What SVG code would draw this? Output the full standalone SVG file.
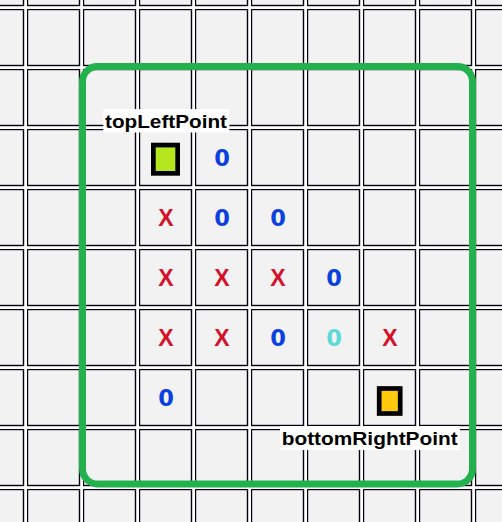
<svg xmlns="http://www.w3.org/2000/svg" width="502" height="522" viewBox="0 0 502 522">
  <defs>
    <pattern id="gridPat" x="-29" y="-51" width="56" height="60" patternUnits="userSpaceOnUse">
      <rect x="0.5" y="0.5" width="52" height="56" fill="#f2f2f2" stroke="#000010" stroke-width="1.4"/>
    </pattern>
  </defs>
  <style>
    .x { font-family: "Liberation Sans", Arial, sans-serif; font-weight: bold; font-size: 23px; fill: #d3112b; text-anchor: middle; }
    .o { font-family: "DejaVu Sans", Verdana, sans-serif; font-weight: bold; font-size: 22.5px; fill: #0b3fdf; text-anchor: middle; }
    .oc { fill: #5ed9da; }
    .lbl { font-family: "Liberation Sans", Arial, sans-serif; font-weight: bold; font-size: 17.5px; fill: #000; }
    .lblbg { fill: #fff; }
    .pt { stroke: #000; stroke-width: 4.7; }
  </style>
  <rect width="502" height="522" fill="#fff"/>
  <rect id="grid" width="502" height="522" fill="url(#gridPat)"/>

  <g id="marks">
    <text class="o" x="222" y="166.4">0</text>
    <text class="x" x="166" y="226.4">X</text>
    <text class="o" x="222" y="226.4">0</text>
    <text class="o" x="278" y="226.4">0</text>
    <text class="x" x="166" y="286.4">X</text>
    <text class="x" x="222" y="286.4">X</text>
    <text class="x" x="278" y="286.4">X</text>
    <text class="o" x="334" y="286.4">0</text>
    <text class="x" x="166" y="346.4">X</text>
    <text class="x" x="222" y="346.4">X</text>
    <text class="o" x="278" y="346.4">0</text>
    <text class="o oc" x="334" y="346.4">0</text>
    <text class="x" x="390" y="346.4">X</text>
    <text class="o" x="166" y="406.4">0</text>
  </g>

  <g id="topLeftPoint">
    <rect class="pt" x="153.35" y="145.05" width="24.3" height="28.3" fill="#b5e61d"/>
    <rect class="lblbg" x="103.3" y="109" width="126" height="23.5"/>
    <text class="lbl" x="105" y="128.3" textLength="122" lengthAdjust="spacingAndGlyphs">topLeftPoint</text>
  </g>

  <g id="bottomRightPoint">
    <rect class="pt" x="379.2" y="388.5" width="21" height="25" fill="#ffc90e"/>
    <rect class="lblbg" x="280" y="426" width="180" height="24"/>
    <text class="lbl" x="281.7" y="445" textLength="176" lengthAdjust="spacingAndGlyphs">bottomRightPoint</text>
  </g>

  <g id="connectors">
    <rect id="selection" x="82.5" y="66.5" width="390" height="417.5" rx="15" ry="15" fill="none" stroke="#22b14c" stroke-width="7"/>
  </g>
</svg>
